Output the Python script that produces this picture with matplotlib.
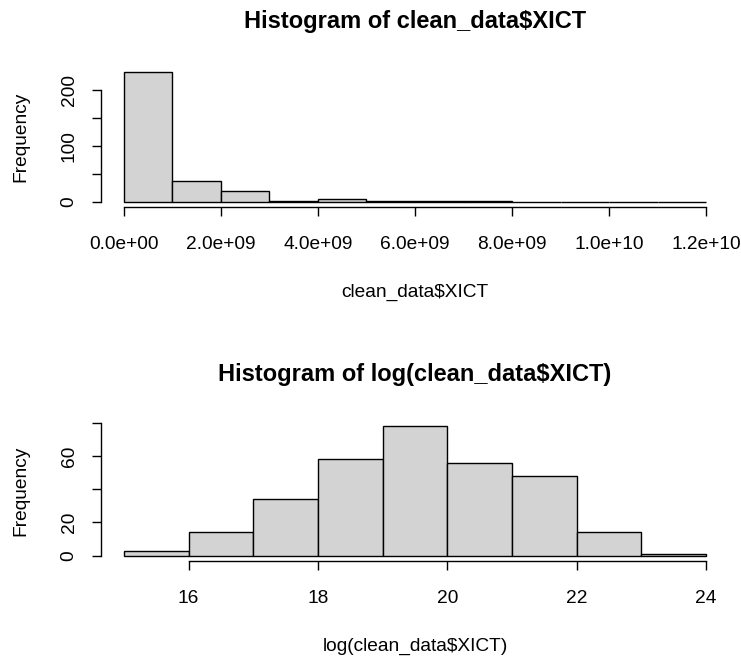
import matplotlib
matplotlib.use("Agg")
import matplotlib.pyplot as plt
import numpy as np

plt.rcParams['font.family'] = ['Liberation Sans', 'DejaVu Sans']

# ---- data ----
top_breaks = [0, 1e9, 2e9, 3e9, 4e9, 5e9, 6e9, 7e9, 8e9, 9e9, 1e10, 1.1e10, 1.2e10]
top_counts = [232, 38, 20, 2, 5, 1, 1, 1, 0, 0, 0, 0]
top_xticks = [0, 2e9, 4e9, 6e9, 8e9, 1e10, 1.2e10]
top_xticklabels = ["0.0e+00", "2.0e+09", "4.0e+09", "6.0e+09", "8.0e+09", "1.0e+10", "1.2e+10"]
top_yticks = [0, 50, 100, 150, 200]
top_yticklabels = ["0", "", "100", "", "200"]

bot_breaks = [15, 16, 17, 18, 19, 20, 21, 22, 23, 24]
bot_counts = [3, 14, 34, 58, 78, 56, 48, 14, 1]
bot_xticks = [16, 18, 20, 22, 24]
bot_xticklabels = ["16", "18", "20", "22", "24"]
bot_yticks = [0, 20, 40, 60, 80]
bot_yticklabels = ["0", "20", "", "60", ""]

titles = ["Histogram of clean_data$XICT", "Histogram of log(clean_data$XICT)"]
xlabels = ["clean_data$XICT", "log(clean_data$XICT)"]

W, H = 741, 656
fig = plt.figure(figsize=(W / 100, H / 100), dpi=100)

def px_axes(left, top, right, bottom):
    return fig.add_axes([left / W, 1 - bottom / H, (right - left) / W, (bottom - top) / H])

TICK_FS = 13.8
TITLE_FS = 17

def draw(ax, breaks, counts, xticks, xtl, yticks, ytl, title, xlabel, box):
    left, top, right, bottom = box
    b = np.asarray(breaks, dtype=float)
    ax.bar(b[:-1], counts, width=np.diff(b), align='edge',
           color='#D3D3D3', edgecolor='black', linewidth=1.0)
    xr = b[-1] - b[0]
    ax.set_xlim(b[0] - 0.04 * xr, b[-1] + 0.04 * xr)
    yr = max(counts)
    ax.set_ylim(-0.04 * yr, yr * 1.04)
    for s in ['top', 'right']:
        ax.spines[s].set_visible(False)
    ax.spines['left'].set_bounds(yticks[0], yticks[-1])
    ax.spines['bottom'].set_bounds(xticks[0], xticks[-1])
    for s in ['left', 'bottom']:
        ax.spines[s].set_linewidth(1.0)
    ax.set_xticks(xticks)
    ax.set_xticklabels(xtl)
    ax.set_yticks(yticks)
    ax.set_yticklabels(ytl, rotation=90, va='center')
    ax.tick_params(axis='both', length=6.7, width=1.0, labelsize=TICK_FS)
    ax.tick_params(axis='x', pad=14)
    ax.tick_params(axis='y', pad=10)
    cx = (left + right) / 2 / W
    fig.text(cx, 1 - (top - 46) / H, title, ha='center', va='center',
             fontsize=TITLE_FS, fontweight='bold')
    fig.text(cx, 1 - (bottom + 86) / H, xlabel, ha='center', va='center', fontsize=TICK_FS)
    fig.text(20.7 / W, 1 - (top + bottom) / 2 / H, "Frequency", ha='center', va='center',
             rotation=90, fontsize=TICK_FS)

ax1 = px_axes(100.7, 67.3, 729.3, 206.9)
draw(ax1, top_breaks, top_counts, top_xticks, top_xticklabels, top_yticks, top_yticklabels,
     titles[0], xlabels[0], (100.7, 67.3, 729.3, 206.9))

ax2 = px_axes(100.7, 420.9, 729.3, 560.9)
draw(ax2, bot_breaks, bot_counts, bot_xticks, bot_xticklabels, bot_yticks, bot_yticklabels,
     titles[1], xlabels[1], (100.7, 420.9, 729.3, 560.9))

fig.savefig("out.png", dpi=100)
